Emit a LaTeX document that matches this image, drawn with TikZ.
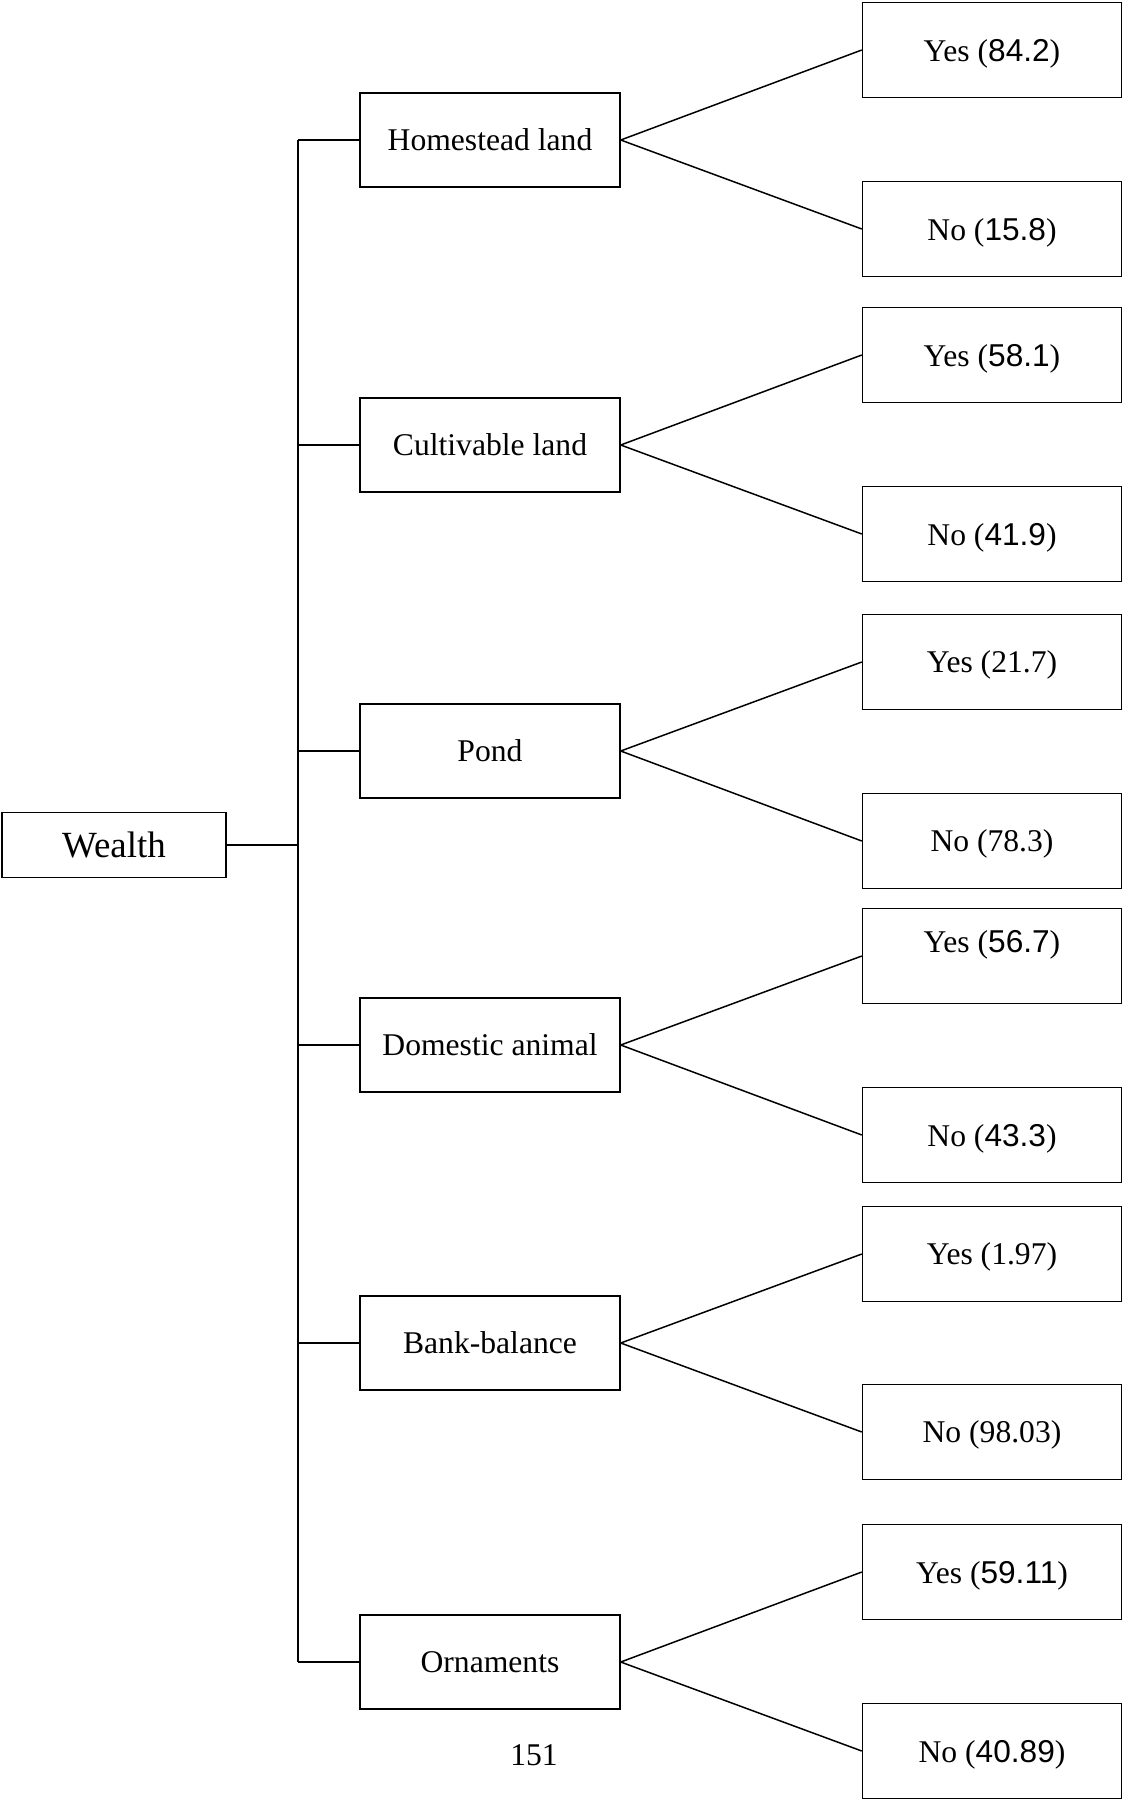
\documentclass[tikz,border=0pt]{standalone}
\usepackage{fontspec}
\setmainfont{Liberation Serif}
\newfontfamily\arial{Liberation Sans}
\usepackage{tikz}
\usetikzlibrary{positioning}

\begin{document}
\begin{tikzpicture}[x=0.02cm, y=-0.02cm,
    rootbox/.style={rectangle, draw=black, line width=0.85pt,
                    minimum width=4.48cm, minimum height=1.3cm,
                    font=\fontsize{21}{24}\selectfont},
    catbox/.style={rectangle, draw=black, line width=0.85pt,
                   minimum width=5.2cm, minimum height=1.88cm,
                   font=\fontsize{18}{21}\selectfont},
    leafbox/.style={rectangle, draw=black, line width=0.85pt,
                    minimum width=5.18cm, minimum height=1.9cm,
                    text depth=0pt, font=\fontsize{18}{21}\selectfont},
    link/.style={line width=0.85pt}
]
\useasboundingbox (0,0) rectangle (1125,1799);

% root
\node (wealth) [rootbox] at (114,845) {Wealth};
\coordinate (trunk) at (298,845);

% categories
\node (home) [catbox] at (490,140)  {Homestead land};
\node (cult) [catbox] at (490,445)  {Cultivable land};
\node (pond) [catbox] at (490,751)  {Pond};
\node (anim) [catbox] at (490,1045) {Domestic animal};
\node (bank) [catbox] at (490,1343) {Bank-balance};
\node (orna) [catbox] at (490,1662) {Ornaments};

% answers
\node (homeY) [leafbox] at (992,50)   {Yes ({\arial 84.2})};
\node (homeN) [leafbox] at (992,229)  {No ({\arial 15.8})};
\node (cultY) [leafbox] at (992,355)  {Yes ({\arial 58.1})};
\node (cultN) [leafbox] at (992,534)  {No ({\arial 41.9})};
\node (pondY) [leafbox] at (992,662)  {Yes (21.7)};
\node (pondN) [leafbox] at (992,841)  {No (78.3)};
\node (animY) [leafbox] at (992,956)  {\raisebox{8.4pt}[\height][\depth]{Yes ({\arial 56.7})}};
\node (animN) [leafbox] at (992,1135) {No ({\arial 43.3})};
\node (bankY) [leafbox] at (992,1254) {Yes (1.97)};
\node (bankN) [leafbox] at (992,1432) {No (98.03)};
\node (ornaY) [leafbox] at (992,1572) {Yes ({\arial 59.11})};
\node (ornaN) [leafbox] at (992,1751) {No ({\arial 40.89})};

\node (page) [font=\fontsize{18}{21}\selectfont] at (534,1755) {151};

% tree lines
\draw [link] (wealth) -- (trunk);
\draw [link] (trunk |- home.west) -- (trunk |- orna.west);
\foreach \c in {home,cult,pond,anim,bank,orna}{
  \draw [link] (trunk |- \c.west) -- (\c.west);
  \draw [link] (\c.east) -- (\c Y.west);
  \draw [link] (\c.east) -- (\c N.west);
}
\end{tikzpicture}
\end{document}
